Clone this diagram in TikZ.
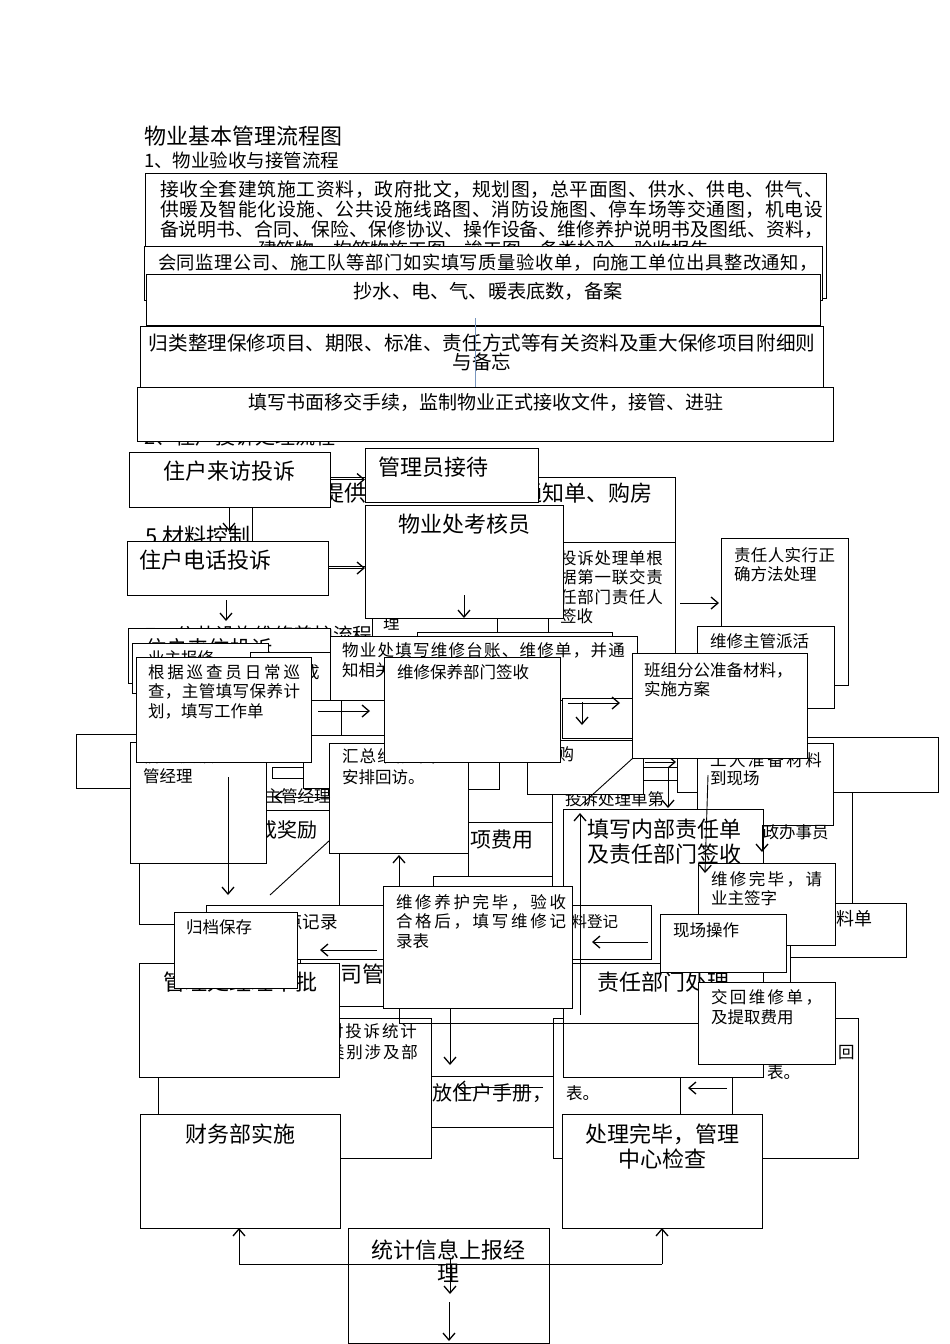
\documentclass[tikz,border=0pt]{standalone}
\usepackage{fontspec}
\setmainfont{Noto Sans CJK SC}
\usetikzlibrary{arrows.meta}
\makeatletter
\def\spx#1{\spx@b#1\relax\relax}
\def\spx@b#1#2{#1\ifx\relax#2\else\hfill\expandafter\spx@b\expandafter#2\fi}
\makeatother
\definecolor{linkblue}{RGB}{120,150,190}
\tikzset{
  bx/.style={draw,fill=white,line width=0.9pt,inner sep=0pt,outer sep=0pt},
  txt/.style={inner sep=0pt,outer sep=0pt,text=black},
  arr/.style={line width=0.9pt,-{Straight Barb[length=7pt,width=12pt,line width=1.3pt]}},
  ln/.style={line width=0.9pt},
}
\newcommand\Bx[6][]{\node[bx,#1,anchor=north west,minimum width={(#5-#3)*1pt},minimum height={(#6-#4)*1pt}] (#2) at (#3,#4) {};}
\newcommand\Tl[5]{\node[txt,anchor=base west,font=\fontsize{#4}{#4}\selectfont] (#1) at (#2,{#3+0.36*#4}) {#5};}
\newcommand\Tc[5]{\node[txt,anchor=base,font=\fontsize{#4}{#4}\selectfont] (#1) at (#2,{#3+0.36*#4}) {#5};}
\newcommand\Tj[6]{\node[txt,anchor=base west,font=\fontsize{#4}{#4}\selectfont] (#1) at (#2,{#3+0.36*#4}) {\makebox[#5pt][s]{\spx{#6}}};}
\begin{document}
\begin{tikzpicture}[x=1pt,y=-1pt]
\useasboundingbox (0,0) rectangle (950,1344);
\fill[white] (0,0) rectangle (950,1344);
% ---------- section 1
\Tl{title}{144}{137}{22}{物业基本管理流程图}
\Tl{s1}{144}{161}{18.5}{1、物业验收与接管流程}
\Tl{s2}{144}{437}{20}{2、住户投诉处理流程}
\Bx{A}{145}{173}{826}{298}
\Tj{A1}{160}{190}{18.8}{663}{接收全套建筑施工资料，政府批文，规划图，总平面图、供水、供电、供气、}
\Tj{A2}{160}{210}{18.8}{663}{供暖及智能化设施、公共设施线路图、消防设施图、停车场等交通图，机电设}
\Tj{A3}{160}{230}{18.8}{663}{备说明书、合同、保险、保修协议、操作设备、维修养护说明书及图纸、资料，}
\Tl{A4}{258}{250}{18.8}{建筑物、构筑物施工图、竣工图、备类检验、验收报告}
\Bx{B}{144}{246}{822}{300}
\Tj{B1}{158}{263}{18.3}{660}{会同监理公司、施工队等部门如实填写质量验收单，向施工单位出具整改通知，}
\Bx{C}{146}{274}{820}{325}
\Tc{C1}{488}{292}{19.2}{抄水、电、气、暖表底数，备案}
\Bx{D}{140}{326}{823}{387}
\Tc{D1}{482}{343}{19.6}{归类整理保修项目、期限、标准、责任方式等有关资料及重大保修项目附细则}
\Tc{D2}{482}{362}{19.6}{与备忘}
\draw[linkblue,line width=0.6pt] (475,318) -- (475,387);
\Bx{E}{137}{387}{833}{441}
\Tc{E1}{486}{403}{19}{填写书面移交手续，监制物业正式接收文件，接管、进驻}
% ---------- section 2
\Tl{mat}{145}{537}{22}{5 材料控制}
\Bx{H1}{252}{477}{675}{566}
\Tl{H1t}{322}{494}{22}{提供住户手册、入伙通知单、购房}
\Bx{visit}{129}{452}{330}{507}
\Tl{visitt}{163}{472}{22}{住户来访投诉}
\Bx{H2}{372}{560}{497}{640}
\Tl{H2t}{383}{624}{16.5}{理}
\Bx{H3}{548}{542}{675}{655}
\Tj{H3a}{560}{559}{16.5}{103}{投诉处理单根}
\Tj{H3b}{560}{578}{16.5}{103}{据第一联交责}
\Tj{H3c}{560}{598}{16.5}{103}{任部门责任人}
\Tl{H3d}{560}{617}{16.5}{签收}
\Bx{recv}{365}{448}{538}{502}
\Tl{recvt}{378}{468}{22}{管理员接待}
\Bx{exam}{365}{505}{563}{618}
\Tc{examt}{464}{525}{22}{物业处考核员}
\draw[arr] (464,595) -- (464,618);
\Bx{phone}{127}{541}{328}{595}
\Tl{phonet}{139}{561}{22}{住户电话投诉}
\draw[arr] (visit.east) -- (recv.west |- visit.east);
\draw[arr] (phone.east) -- (exam.west |- phone.east);
\draw[arr] (229,507) -- (229,531);
\draw[arr] (226,600) -- (226,621);
% ---------- section 7 start
\Tl{sec7}{145}{635}{19.7}{7、公共设施维修养护流程}
\Bx{H4}{128}{628}{330}{683}
\Tl{H4t}{145}{649}{21.3}{住户来信投诉}
\Bx{H5}{132}{643}{268}{693}
\Tl{H5t}{148}{659}{16.5}{业主报修}
\Bx{H6}{250}{652}{330}{700}
\Tl{H6t}{303}{673}{16.5}{成}
\Bx{H2b}{417}{632}{612}{650}
\Bx{H7}{341}{699}{400}{735}
\draw[ln] (311,735) -- (341,735);
% ---------- middle band background
\Bx{H25}{76}{734}{140}{788}
\Bx{H20}{139}{810}{339}{924}
\Tl{H20t}{257}{830}{20}{或奖励}
\draw[ln] (270,895) -- (330,840);
\Tl{mgr}{248}{797}{16.5}{至主管经理}
\draw[ln] (272,767) rectangle (303,778);
\draw[ln] (303,762) -- (303,788) -- (330,788);
\Bx{info}{130}{742}{266}{863}
\Tj{infoA}{143}{757}{16.5}{108}{信息反馈至主}
\Tl{infoB}{143}{777}{16.5}{管经理}
\draw[arr] (228,777) -- (228,895);
\Bx{H26a}{468}{700}{552}{822}
\Bx{H26}{468}{822}{552}{876}
\Tl{H26t}{470}{840}{21}{项费用}
\Bx{H27}{433}{876}{552}{990}
\Tl{H28u}{565}{800}{16.5}{投诉处理单第}
\Bx{H28}{527}{740}{643}{794}
\Tl{H28t}{541}{755}{16.5}{采购}
\Bx{sm1}{468}{740}{499}{789}
\Bx{sum}{329}{743}{468}{853}
\Tj{sumA}{342}{757}{16.5}{105}{汇总维修单，}
\Tl{sumB}{342}{778}{16.5}{安排回访。}
\draw[arr] (330,797) -- (274,797);
\draw[ln] (580,806) -- (633,758);
\draw[ln] (643,767) -- (677,767);
\draw[ln] (643,780) -- (677,780);
\draw[arr] (668,768) -- (668,808);
\draw[arr] (645,762) -- (676,762);
\Bx{H11}{677}{737}{938}{792}
\Bx{H10}{697}{743}{833}{825}
\Tj{H10a}{710}{761}{16.5}{112}{工人准备材料}
\Tl{H10b}{710}{779}{16.5}{到现场}
\draw[ln] (852,792) -- (852,903);
\Tl{adm}{746}{833}{16.5}{行政办事员}
% ---------- middle band foreground
\Bx{H8}{330}{636}{637}{700}
\Tj{H8a}{342}{651}{16.5}{283}{物业处填写维修台账、维修单，并通}
\Tl{H8b}{342}{671}{16.5}{知相关部门}
\Bx{patrol}{136}{657}{311}{762}
\Tj{patA}{148}{673}{16.5}{152}{根据巡查员日常巡}
\Tj{patB}{148}{692}{16.5}{152}{查，主管填写保养计}
\Tl{patC}{148}{712}{16.5}{划，填写工作单}
\draw[arr] (318,711) -- (370,711);
\Bx{maint}{384}{657}{560}{762}
\Tl{maintt}{397}{673}{16.5}{维修保养部门签收}
\Bx{H30}{562}{698}{632}{738}
\draw[arr] (568,703) -- (620,703);
\draw[arr] (582,702) -- (582,725);
\Bx{resp}{721}{538}{848}{685}
\Tj{respA}{734}{556}{16.5}{101}{责任人实行正}
\Tl{respB}{734}{575}{16.5}{确方法处理}
\draw[arr] (680,603) -- (719,603);
\Bx{disp}{697}{626}{834}{708}
\Tl{dispt}{710}{642}{16.5}{维修主管派活}
\Bx{team}{632}{653}{807}{758}
\Tj{teamA}{644}{671}{16.5}{142}{班组分公准备材料，}
\Tl{teamB}{644}{690}{16.5}{实施方案}
% ---------- lower band
\Bx{H19}{158}{1018}{431}{1158}
\Tj{H19a}{327}{1032}{16.5}{90}{对投诉统计}
\Tj{H19b}{328}{1053}{16.5}{90}{类别涉及部}
\Bx{H18}{300}{959}{420}{1006}
\Tl{H18t}{318}{975}{22}{公司管理}
\Bx{H17}{206}{905}{383}{959}
\Tl{H17t}{250}{922}{17.5}{巡查点记录}
\Bx{mgrbox}{139}{963}{339}{1077}
\Tl{mgrt}{163}{983}{22}{管理处经理审批}
\Bx{arch}{174}{912}{297}{988}
\Tl{archt}{186}{928}{16.5}{归档保存}
\Bx{H21}{431}{1076}{553}{1127}
\Tl{H21t}{432}{1093}{20}{放住户手册，}
\draw[arr] (543,1087) -- (457,1087);
\Bx{H13}{553}{1018}{858}{1158}
\Tl{H13a}{566}{1094}{16.5}{表。}
\Tl{H13b}{838}{1053}{16.5}{回}
\Tl{H13c}{767}{1073}{16.5}{表。}
\draw[ln] (680,1077) -- (680,1114);
\draw[ln] (732,1077) -- (732,1114);
\draw[arr] (727,1088) -- (688,1088);
\Bx{intern}{563}{809}{763}{963}
\Tl{internA}{587}{830}{22}{填写内部责任单}
\Tl{internB}{587}{855}{22}{及责任部门签收}
\Bx{dept}{563}{963}{763}{1077}
\Tl{deptt}{597}{983}{22}{责任部门处理}
\draw[ln] (399,1008) -- (399,1023) -- (698,1023);
\Bx{H16}{536}{905}{651}{959}
\Tl{H16t}{556}{922}{15.5}{材料登记}
\draw[arr] (648,942) -- (592,942);
\draw[arr] (580,1015) -- (580,813);
\Bx{H15}{790}{903}{906}{957}
\Tl{H15t}{818}{919}{18}{领料单}
\draw[ln] (790,957) -- (790,982);
\Bx{done}{698}{863}{835}{945}
\Tj{doneA}{711}{880}{16.5}{111}{维修完毕，请}
\Tl{doneB}{711}{899}{16.5}{业主签字}
\draw[arr] (708,775) -- (705,873);
\draw[arr] (762,825) -- (762,852);
\Bx{site}{660}{914}{786}{972}
\Tl{sitet}{673}{931}{16.5}{现场操作}
\Bx{fin}{383}{886}{572}{1008}
\Tj{finA}{396}{903}{16.5}{170}{维修养护完毕，验收}
\Tj{finB}{396}{922}{16.5}{170}{合格后，填写维修记}
\Tl{finC}{396}{942}{16.5}{录表}
\draw[arr] (399,886) -- (399,855);
\draw[arr] (450,1008) -- (450,1065);
\draw[arr] (377,950) -- (320,950);
\Bx{ret}{698}{982}{835}{1064}
\Tj{retA}{711}{998}{16.5}{111}{交回维修单，}
\Tl{retB}{711}{1018}{16.5}{及提取费用}
% ---------- bottom
\Bx{cw}{140}{1114}{340}{1228}
\Tc{cwt}{240}{1135}{22}{财务部实施}
\Bx{cl}{562}{1114}{762}{1228}
\Tc{clA}{662}{1135}{22}{处理完毕，管理}
\Tc{clB}{662}{1160}{22}{中心检查}
\Bx{stat}{348}{1228}{549}{1343}
\Tc{statA}{448}{1251}{22}{统计信息上报经}
\Tc{statB}{448}{1274}{22}{理}
\coordinate (jl) at (239,1264);
\coordinate (jr) at (662,1264);
\draw[ln] (jl) -- (jr);
\draw[arr] (jl) -- (jl |- cw.south);
\draw[arr] (jr) -- (jr |- cl.south);
\draw[arr] (450,1258) -- (450,1294);
\draw[arr] (449,1302) -- (449,1341);
\end{tikzpicture}
\end{document}
